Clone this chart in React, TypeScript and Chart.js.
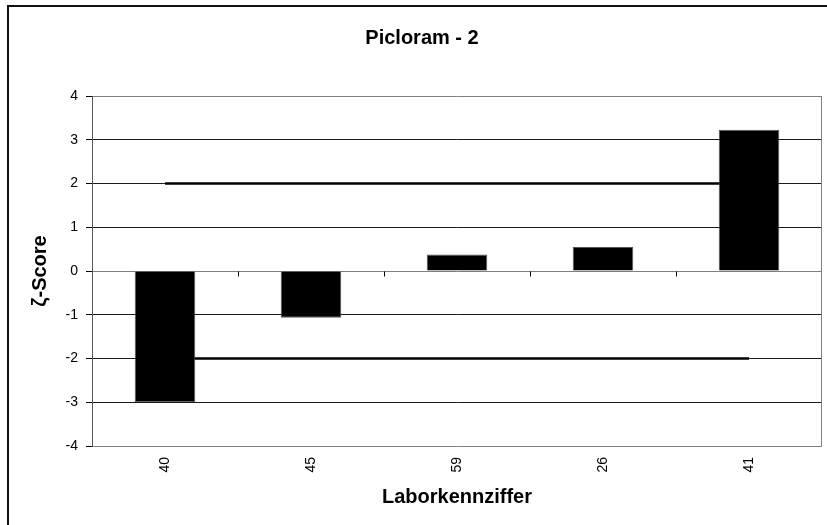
import React, { useEffect, useRef } from "react";
import { Chart, registerables } from "chart.js";

Chart.register(...registerables);

const chartTitle = "Picloram - 2";
const xTitle = "Laborkennziffer";
const yTitle = "ζ-Score";
const labs = ["40", "45", "59", "26", "41"];
const zetaScores = [-3.0, -1.07, 0.38, 0.55, 3.23];
const upperLimit = [2, 2, 2, 2, 2];
const lowerLimit = [-2, -2, -2, -2, -2];
const yMin = -4;
const yMax = 4;

const FONT = "'Liberation Sans', Arial, sans-serif";

const decorPlugin = {
  id: "decor",
  beforeDatasetsDraw(chart: any) {
    const { ctx, chartArea, scales } = chart;
    const x = scales.x;
    const y = scales.y;
    const y0 = Math.round(y.getPixelForValue(0)) + 0.5;
    ctx.save();
    ctx.strokeStyle = "#000";
    ctx.lineWidth = 1;
    for (let i = 0; i < labs.length - 1; i++) {
      const px = Math.round((x.getPixelForValue(i) + x.getPixelForValue(i + 1)) / 2) + 0.5;
      ctx.beginPath();
      ctx.moveTo(px, y0);
      ctx.lineTo(px, y0 + 5);
      ctx.stroke();
    }
    // right border of plot area
    ctx.strokeStyle = "#808080";
    ctx.beginPath();
    const rx = Math.round(chartArea.right) - 0.5;
    ctx.moveTo(rx, chartArea.top);
    ctx.lineTo(rx, chartArea.bottom);
    ctx.stroke();
    ctx.restore();
  },
  afterDraw(chart: any) {
    const { ctx } = chart;
    ctx.save();
    // outer frame (top & left)
    ctx.fillStyle = "#111";
    ctx.fillRect(7, 5, 820, 2);
    ctx.fillRect(7, 5, 2, 520);
    // main title
    ctx.fillStyle = "#000";
    ctx.font = `bold 20px ${FONT}`;
    ctx.textAlign = "center";
    ctx.textBaseline = "middle";
    ctx.fillText(chartTitle, 422, 38);
    ctx.restore();
  },
};

export default function App() {
  const ref = useRef<HTMLCanvasElement | null>(null);

  useEffect(() => {
    if (!ref.current) return;
    const chart = new Chart(ref.current, {
      type: "bar",
      data: {
        labels: labs,
        datasets: [
          {
            type: "bar",
            label: "ζ-Score",
            data: zetaScores,
            backgroundColor: "#000",
            borderColor: "#555",
            borderWidth: 1,
            barPercentage: 0.415,
            categoryPercentage: 1,
            order: 0,
          },
          {
            type: "line",
            label: "upper",
            data: upperLimit,
            borderColor: "#000",
            borderWidth: 2.5,
            pointRadius: 0,
            fill: false,
            order: 1,
          },
          {
            type: "line",
            label: "lower",
            data: lowerLimit,
            borderColor: "#000",
            borderWidth: 2.5,
            pointRadius: 0,
            fill: false,
            order: 1,
          },
        ] as any,
      },
      options: {
        animation: false,
        responsive: false,
        maintainAspectRatio: false,
        layout: { padding: { left: 0, right: 5, top: 96, bottom: 0 } },
        plugins: {
          legend: { display: false },
          title: { display: false },
          tooltip: { enabled: false },
        },
        scales: {
          x: {
            grid: { display: false, drawTicks: false },
            border: { display: false },
            ticks: {
              minRotation: 90,
              maxRotation: 90,
              padding: 11,
              color: "#000",
              font: { family: FONT, size: 14 },
            },
            title: {
              display: true,
              text: xTitle,
              color: "#000",
              font: { family: FONT, size: 20, weight: "bold" },
              padding: { top: 0, bottom: 16 },
            },
            afterFit(scale: any) {
              scale.height = 79;
            },
          },
          y: {
            min: yMin,
            max: yMax,
            ticks: {
              stepSize: 1,
              padding: 8,
              color: "#000",
              font: { family: FONT, size: 14 },
            },
            grid: {
              color: (c: any) =>
                c.tick && (c.tick.value === 0 || Math.abs(c.tick.value) === 4) ? "#808080" : "#1a1a1a",
              lineWidth: 1,
              tickLength: 6,
              tickColor: "#000",
            },
            border: { display: true, color: "#555", width: 1 },
            title: {
              display: true,
              text: yTitle,
              color: "#000",
              font: { family: FONT, size: 20, weight: "bold" },
              padding: { top: 28, bottom: 0 },
            },
            afterFit(scale: any) {
              scale.width = 92;
            },
          },
        },
      },
      plugins: [decorPlugin],
    });
    return () => chart.destroy();
  }, []);

  return (
    <div style={{ position: "fixed", left: 0, top: 0, width: 827, height: 525, background: "#fff" }}>
      <canvas ref={ref} width={827} height={525} style={{ width: 827, height: 525 }} />
    </div>
  );
}
